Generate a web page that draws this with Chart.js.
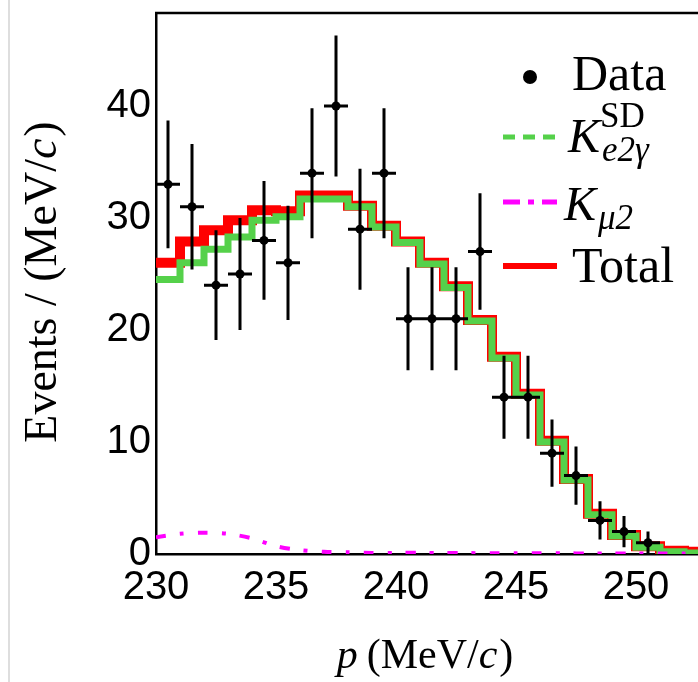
<!DOCTYPE html>
<html>
<head>
<meta charset="utf-8">
<script src="https://cdn.jsdelivr.net/npm/chart.js@4.4.0/dist/chart.umd.min.js"></script>
<style>
  html, body { margin: 0; padding: 0; background: #fff; overflow: hidden; }
  #wrap { position: relative; width: 698px; height: 682px; overflow: hidden; }
  #edge { position: absolute; left: 8px; top: 0; width: 2px; height: 682px; background: #dedede; }
  canvas { position: absolute; left: 0; top: 0; }
</style>
</head>
<body>
<div id="wrap">
  <canvas id="chart" width="698" height="682"></canvas>
  <div id="edge"></div>
</div>
<script>
// histogram bin edges (MeV/c), 1 MeV/c bins
const bin_edges = [230, 231, 232, 233, 234, 235, 236, 237, 238, 239, 240, 241,
                   242, 243, 244, 245, 246, 247, 248, 249, 250, 251, 252, 253];

// data points (bin centres), counts and errors
const data_x = [230.5, 231.5, 232.5, 233.5, 234.5, 235.5, 236.5, 237.5, 238.5, 239.5, 240.5,
                241.5, 242.5, 243.5, 244.5, 245.5, 246.5, 247.5, 248.5, 249.5, 250.5];
const data_y = [33, 31, 24, 25, 28, 26, 34, 40, 29, 34, 21, 21, 21, 27, 14, 14, 9, 7, 3, 2, 1];
const data_err = [5.7, 5.6, 4.9, 5.0, 5.3, 5.1, 5.8, 6.3, 5.4, 5.8, 4.6, 4.6, 4.6, 5.2,
                  3.7, 3.7, 3.0, 2.6, 1.7, 1.4, 1.0];

// fitted components per bin
const ke2g_sd = [24.5, 26.0, 27.2, 28.3, 29.8, 30.1, 31.7, 31.7, 31.0, 29.2, 27.8, 25.9,
                 23.8, 20.8, 17.5, 14.2, 10.0, 6.6, 3.5, 1.6, 0.6, 0.2, 0.1];
const total = [26.0, 27.9, 28.9, 29.8, 30.7, 30.6, 32.0, 32.0, 31.1, 29.3, 27.9, 26.0,
               23.9, 20.9, 17.6, 14.3, 10.1, 6.7, 3.6, 1.7, 0.7, 0.3, 0.2];
const kmu2_x = [230, 231, 232, 233, 234, 235, 236, 237, 238, 239, 240, 241, 242, 243,
                244, 245, 246, 247, 248, 249, 250, 251, 252, 253];
const kmu2_y = [1.5, 1.8, 1.9, 1.8, 1.4, 0.7, 0.35, 0.2, 0.15, 0.1, 0.1, 0.1, 0.08, 0.08,
                0.07, 0.07, 0.06, 0.06, 0.05, 0.05, 0.05, 0.05, 0.05, 0.05];

const x_ticks = [230, 235, 240, 245, 250];
const y_ticks = [0, 10, 20, 30, 40];

const SANS = "'Liberation Sans', Arial, sans-serif";
const SERIF = "'Liberation Serif', 'Times New Roman', serif";
const colors = {
    data: '#000000',
    total: '#ff0000',
    sd: '#55d14a',
    kmu2: '#ff00ff'
};

function step_points(values) {
    const pts = values.map((v, i) => ({x: bin_edges[i], y: v}));
    pts.push({x: bin_edges[values.length], y: values[values.length - 1]});
    return pts;
}

// draw a run of text pieces with different fonts
function draw_runs(ctx, runs, x, y) {
    runs.forEach(r => {
        ctx.font = r.font;
        ctx.fillText(r.text, x, y + (r.dy || 0));
        x += ctx.measureText(r.text).width + (r.gap || 0);
    });
}

function runs_width(ctx, runs) {
    return runs.reduce((w, r) => {
        ctx.font = r.font;
        return w + ctx.measureText(r.text).width + (r.gap || 0);
    }, 0);
}

const error_bar_plugin = {
    id: 'error_bars',
    beforeDatasetDraw(chart, args) {
        if (args.index !== 0) return;
        const {ctx, scales: {x, y}} = chart;
        ctx.save();
        ctx.strokeStyle = colors.data;
        ctx.lineWidth = 3;
        data_x.forEach((xv, i) => {
            const px = x.getPixelForValue(xv);
            const py = y.getPixelForValue(data_y[i]);
            const top = y.getPixelForValue(data_y[i] + data_err[i]);
            const bot = y.getPixelForValue(Math.max(0, data_y[i] - data_err[i]));
            ctx.beginPath();
            ctx.moveTo(px, top);
            ctx.lineTo(px, bot);
            ctx.moveTo(x.getPixelForValue(xv - 0.5), py);
            ctx.lineTo(x.getPixelForValue(xv + 0.5), py);
            ctx.stroke();
        });
        ctx.restore();
    }
};

const frame_plugin = {
    id: 'frame',
    afterDraw(chart) {
        const {ctx, chartArea: a} = chart;
        ctx.save();
        ctx.strokeStyle = '#000';
        ctx.lineWidth = 2.5;
        ctx.beginPath();
        ctx.moveTo(a.left - 1, a.top);
        ctx.lineTo(chart.width, a.top);
        ctx.stroke();
        ctx.restore();
    }
};

const titles_plugin = {
    id: 'axis_titles',
    afterDraw(chart) {
        const {ctx} = chart;
        ctx.save();
        ctx.fillStyle = '#000';
        ctx.textBaseline = 'alphabetic';
        ctx.textAlign = 'left';
        const xt = [
            {text: 'p', font: `italic 42px ${SERIF}`, gap: 9},
            {text: '(MeV/', font: `42px ${SERIF}`},
            {text: 'c', font: `italic 42px ${SERIF}`, gap: 2},
            {text: ')', font: `42px ${SERIF}`}
        ];
        const xw = runs_width(ctx, xt);
        draw_runs(ctx, xt, 425 - xw / 2, 668);

        const yt = [
            {text: 'Events / (MeV/', font: `46px ${SERIF}`},
            {text: 'c', font: `italic 46px ${SERIF}`, gap: 2},
            {text: ')', font: `46px ${SERIF}`}
        ];
        const yw = runs_width(ctx, yt);
        ctx.translate(56, 282);
        ctx.rotate(-Math.PI / 2);
        draw_runs(ctx, yt, -yw / 2, 0);
        ctx.restore();
    }
};

const legend_plugin = {
    id: 'custom_legend',
    afterDraw(chart) {
        const {ctx} = chart;
        ctx.save();
        ctx.fillStyle = '#000';
        ctx.textBaseline = 'alphabetic';
        ctx.textAlign = 'left';

        // Data
        ctx.beginPath();
        ctx.arc(530, 77, 7, 0, Math.PI * 2);
        ctx.fill();
        draw_runs(ctx, [{text: 'Data', font: `50px ${SERIF}`}], 572, 90);

        // K_e2gamma SD
        ctx.strokeStyle = colors.sd;
        ctx.lineWidth = 5;
        ctx.setLineDash([12, 8]);
        ctx.beginPath();
        ctx.moveTo(503, 137);
        ctx.lineTo(557, 137);
        ctx.stroke();
        draw_runs(ctx, [{text: 'K', font: `italic 48px ${SERIF}`}], 568, 152);
        draw_runs(ctx, [{text: 'SD', font: `35px ${SERIF}`}], 600, 127);
        draw_runs(ctx, [{text: 'e2γ', font: `italic 35px ${SERIF}`}], 602, 161);

        // K_mu2
        ctx.strokeStyle = colors.kmu2;
        ctx.setLineDash([17, 8, 6, 8]);
        ctx.beginPath();
        ctx.moveTo(503, 202);
        ctx.lineTo(557, 202);
        ctx.stroke();
        draw_runs(ctx, [{text: 'K', font: `italic 48px ${SERIF}`}], 564, 220);
        draw_runs(ctx, [{text: 'μ2', font: `italic 35px ${SERIF}`}], 598, 229);

        // Total
        ctx.strokeStyle = colors.total;
        ctx.lineWidth = 6;
        ctx.setLineDash([]);
        ctx.beginPath();
        ctx.moveTo(503, 266);
        ctx.lineTo(557, 266);
        ctx.stroke();
        draw_runs(ctx, [{text: 'Total', font: `50px ${SERIF}`}], 572, 282);
        ctx.restore();
    }
};

const x_min = 230;
const x_max = 230 + (698 - 156) / 24;
const y_max = 48.3;

function no_pad(scale) {
    scale.paddingTop = 0;
    scale.paddingBottom = 0;
    scale.paddingLeft = 0;
    scale.paddingRight = 0;
}

new Chart(document.getElementById('chart').getContext('2d'), {
    type: 'scatter',
    data: {
        datasets: [
            {
                label: 'Data',
                data: data_x.map((x, i) => ({x: x, y: data_y[i]})),
                backgroundColor: colors.data,
                borderColor: colors.data,
                pointRadius: 4.5,
                pointHoverRadius: 4.5,
                borderWidth: 0,
                order: 0
            },
            {
                label: 'Kmu2',
                type: 'line',
                data: kmu2_x.map((x, i) => ({x: x, y: kmu2_y[i]})),
                borderColor: colors.kmu2,
                borderWidth: 4,
                borderDash: [10, 14, 4, 14],
                pointRadius: 0,
                tension: 0.3,
                fill: false,
                order: 1
            },
            {
                label: 'Ke2g SD',
                type: 'line',
                data: step_points(ke2g_sd),
                borderColor: colors.sd,
                borderWidth: 7,
                stepped: 'before',
                pointRadius: 0,
                fill: false,
                borderJoinStyle: 'miter',
                order: 2
            },
            {
                label: 'Total',
                type: 'line',
                data: step_points(total),
                borderColor: colors.total,
                borderWidth: 10,
                stepped: 'before',
                pointRadius: 0,
                fill: false,
                borderJoinStyle: 'miter',
                order: 3
            }
        ]
    },
    options: {
        responsive: false,
        devicePixelRatio: 1,
        animation: false,
        events: [],
        layout: {
            autoPadding: false,
            padding: {top: 13, right: 0, left: 0, bottom: 0}
        },
        plugins: {
            legend: {display: false},
            tooltip: {enabled: false},
            title: {display: false}
        },
        scales: {
            x: {
                type: 'linear',
                min: x_min,
                max: x_max,
                afterBuildTicks: scale => { scale.ticks = x_ticks.map(v => ({value: v})); },
                afterFit: scale => { scale.height = 128; no_pad(scale); },
                grid: {display: false, drawTicks: false},
                border: {display: true, color: '#000', width: 2.5},
                ticks: {
                    color: '#000',
                    padding: 10,
                    maxRotation: 0,
                    font: {family: SANS, size: 40}
                }
            },
            y: {
                type: 'linear',
                min: 0,
                max: y_max,
                afterBuildTicks: scale => { scale.ticks = y_ticks.map(v => ({value: v})); },
                afterFit: scale => { scale.width = 156; no_pad(scale); },
                grid: {display: false, drawTicks: false},
                border: {display: true, color: '#000', width: 2.5},
                ticks: {
                    color: '#000',
                    padding: 5,
                    font: {family: SANS, size: 40}
                }
            }
        }
    },
    plugins: [error_bar_plugin, frame_plugin, titles_plugin, legend_plugin]
});
</script>
</body>
</html>
